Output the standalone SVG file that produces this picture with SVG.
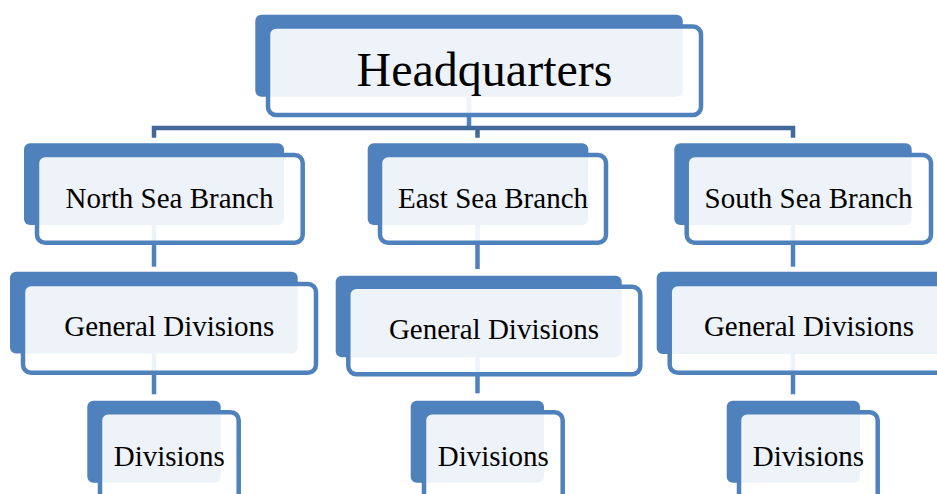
<svg xmlns="http://www.w3.org/2000/svg" width="937" height="494" viewBox="0 0 937 494">
<style>
.back{fill:#4F81BD;}
.front{fill:#FFFFFF;fill-opacity:0.9;stroke:#4F81BD;stroke-width:4.5;}
.lbl{font-family:"Liberation Serif","Times New Roman",serif;font-size:29px;fill:#000;text-anchor:middle;}
.hq{font-size:48px;}
.bus{fill:none;stroke:#41699C;stroke-width:4.5;stroke-linejoin:miter;}
.vl{fill:none;stroke:#4F81BD;stroke-width:4.5;}
</style>
<rect width="937" height="494" fill="#FFFFFF"/>
<g id="connectors">
<line class="vl" x1="469" y1="97" x2="469" y2="128"/>
<path class="bus" d="M154 137.7 V128 H793 V137.7 M477.5 128 V137.7"/>
<line class="vl" x1="154" y1="225" x2="154" y2="266.7"/>
<line class="vl" x1="154" y1="353" x2="154" y2="394.3"/>
<line class="vl" x1="477.5" y1="225" x2="477.5" y2="269"/>
<line class="vl" x1="477.5" y1="357" x2="477.5" y2="393.3"/>
<line class="vl" x1="793" y1="225" x2="793" y2="266.7"/>
<line class="vl" x1="793" y1="354" x2="793" y2="394.3"/>
</g>
<g id="headquarters">
<rect class="back" x="255.3" y="14.7" width="427.4" height="82" rx="6"/>
<rect class="front" x="268" y="26.5" width="433" height="88.5" rx="8"/>
<text class="lbl hq" x="484.5" y="86">Headquarters</text>
</g>
<g id="north-branch">
<rect class="back" x="24" y="143.3" width="260" height="81.7" rx="6"/>
<rect class="front" x="37" y="155" width="265.7" height="87.7" rx="8"/>
<text class="lbl" x="169.5" y="207.7">North Sea Branch</text>
</g>
<g id="east-branch">
<rect class="back" x="367.7" y="143.3" width="220.6" height="81.7" rx="6"/>
<rect class="front" x="380" y="155" width="226" height="87.7" rx="8"/>
<text class="lbl" x="493" y="207.7">East Sea Branch</text>
</g>
<g id="south-branch">
<rect class="back" x="674.3" y="143.3" width="237.4" height="81.7" rx="6"/>
<rect class="front" x="686.7" y="155" width="244.3" height="87.7" rx="8"/>
<text class="lbl" x="808.5" y="207.7">South Sea Branch</text>
</g>
<g id="north-general">
<rect class="back" x="10" y="271.7" width="287.7" height="81.7" rx="6"/>
<rect class="front" x="23" y="284" width="293" height="88.7" rx="8"/>
<text class="lbl" x="169.3" y="336">General Divisions</text>
</g>
<g id="east-general">
<rect class="back" x="335.7" y="275.7" width="286" height="81.6" rx="6"/>
<rect class="front" x="348.3" y="286.7" width="292" height="87.6" rx="8"/>
<text class="lbl" x="494" y="339.3">General Divisions</text>
</g>
<g id="south-general">
<rect class="back" x="656.7" y="271.7" width="287" height="82.3" rx="6"/>
<rect class="front" x="669.7" y="284" width="293" height="88.7" rx="8"/>
<text class="lbl" x="809" y="336">General Divisions</text>
</g>
<g id="north-divisions">
<rect class="back" x="87.3" y="400.7" width="133.4" height="82" rx="6"/>
<rect class="front" x="100" y="412.3" width="138.7" height="95" rx="8"/>
<text class="lbl" x="169.3" y="466">Divisions</text>
</g>
<g id="east-divisions">
<rect class="back" x="410.7" y="400.7" width="133.3" height="82" rx="6"/>
<rect class="front" x="424" y="412.3" width="138.7" height="95" rx="8"/>
<text class="lbl" x="493.3" y="466">Divisions</text>
</g>
<g id="south-divisions">
<rect class="back" x="726.7" y="400.7" width="133.3" height="82" rx="6"/>
<rect class="front" x="739" y="412.3" width="138.7" height="95" rx="8"/>
<text class="lbl" x="808.4" y="466">Divisions</text>
</g>
</svg>
